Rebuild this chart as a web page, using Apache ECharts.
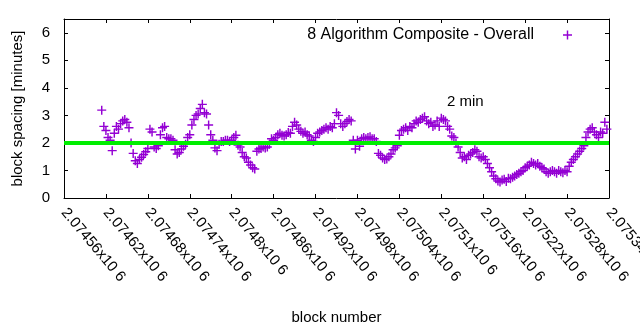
<!DOCTYPE html>
<html>
<head>
<meta charset="utf-8">
<script src="https://cdn.jsdelivr.net/npm/echarts@6/dist/echarts.min.js"></script>
<style>html,body{margin:0;padding:0;background:#fff;}#chart{width:640px;height:330px;}</style>
</head>
<body>
<div id="chart"></div>
<script>
const seriesName = '8 Algorithm Composite - Overall';
const targetMinutes = 2;
const annotationText = '2 min';
const annotationBlock = 2075108;
const annotationValue = 3.5;

const xTickValues = [2074560, 2074620, 2074680, 2074740, 2074800, 2074860, 2074920, 2074980, 2075040, 2075100, 2075160, 2075220, 2075280, 2075340];
const xTickLabels = ['2.07456x10 6', '2.07462x10 6', '2.07468x10 6', '2.07474x10 6', '2.0748x10 6', '2.07486x10 6', '2.07492x10 6', '2.07498x10 6', '2.07504x10 6', '2.0751x10 6', '2.07516x10 6', '2.07522x10 6', '2.07528x10 6', '2.07534x10 6'];
const yTickValues = [0, 1, 2, 3, 4, 5, 6];

const blocks = [
  2074614, 2074617, 2074620, 2074623, 2074626, 2074629, 2074632, 2074635, 2074638, 2074641,
  2074644, 2074647, 2074650, 2074653, 2074656, 2074659, 2074662, 2074665, 2074668, 2074671,
  2074674, 2074677, 2074680, 2074683, 2074686, 2074689, 2074692, 2074695, 2074698, 2074701,
  2074704, 2074707, 2074710, 2074713, 2074716, 2074719, 2074722, 2074725, 2074728, 2074731,
  2074734, 2074737, 2074740, 2074743, 2074746, 2074749, 2074752, 2074755, 2074758, 2074761,
  2074764, 2074767, 2074770, 2074773, 2074776, 2074779, 2074782, 2074785, 2074788, 2074791,
  2074794, 2074797, 2074800, 2074803, 2074806, 2074809, 2074812, 2074815, 2074818, 2074821,
  2074824, 2074827, 2074830, 2074833, 2074836, 2074839, 2074842, 2074845, 2074848, 2074851,
  2074854, 2074857, 2074860, 2074863, 2074866, 2074869, 2074872, 2074875, 2074878, 2074881,
  2074884, 2074887, 2074890, 2074893, 2074896, 2074899, 2074902, 2074905, 2074908, 2074911,
  2074914, 2074917, 2074920, 2074923, 2074926, 2074929, 2074932, 2074935, 2074938, 2074941,
  2074944, 2074947, 2074950, 2074953, 2074956, 2074959, 2074962, 2074965, 2074968, 2074971,
  2074974, 2074977, 2074980, 2074983, 2074986, 2074989, 2074992, 2074995, 2074998, 2075001,
  2075004, 2075007, 2075010, 2075013, 2075016, 2075019, 2075022, 2075025, 2075028, 2075031,
  2075034, 2075037, 2075040, 2075043, 2075046, 2075049, 2075052, 2075055, 2075058, 2075061,
  2075064, 2075067, 2075070, 2075073, 2075076, 2075079, 2075082, 2075085, 2075088, 2075091,
  2075094, 2075097, 2075100, 2075103, 2075106, 2075109, 2075112, 2075115, 2075118, 2075121,
  2075124, 2075127, 2075130, 2075133, 2075136, 2075139, 2075142, 2075145, 2075148, 2075151,
  2075154, 2075157, 2075160, 2075163, 2075166, 2075169, 2075172, 2075175, 2075178, 2075181,
  2075184, 2075187, 2075190, 2075193, 2075196, 2075199, 2075202, 2075205, 2075208, 2075211,
  2075214, 2075217, 2075220, 2075223, 2075226, 2075229, 2075232, 2075235, 2075238, 2075241,
  2075244, 2075247, 2075250, 2075253, 2075256, 2075259, 2075262, 2075265, 2075268, 2075271,
  2075274, 2075277, 2075280, 2075283, 2075286, 2075289, 2075292, 2075295, 2075298, 2075301,
  2075304, 2075307, 2075310, 2075313, 2075316, 2075319, 2075322, 2075325, 2075328, 2075331, 2075334, 2075337
];

const spacing = [
  3.19, 2.6, 2.45, 2.2, 2.1, 1.72, 2.35, 2.6, 2.5, 2.7,
  2.8, 2.85, 2.75, 2.55, 2.0, 1.62, 1.35, 1.25, 1.4, 1.48,
  1.58, 1.68, 1.8, 2.5, 2.4, 1.85, 1.8, 1.9, 2.3, 2.55,
  2.6, 2.2, 2.15, 2.15, 2.1, 1.75, 1.6, 1.65, 1.78, 1.88,
  1.95, 2.2, 2.3, 2.65, 2.85, 3.0, 3.05, 3.25, 3.4, 3.1,
  3.05, 2.65, 2.3, 2.1, 1.82, 1.72, 1.95, 2.05, 2.05, 2.1,
  2.1, 2.05, 2.1, 2.2, 2.28, 1.92, 1.85, 1.65, 1.5, 1.45,
  1.3, 1.2, 1.1, 1.05, 1.7, 1.78, 1.8, 1.85, 1.82, 1.85,
  1.95, 2.15, 2.1, 2.2, 2.3, 2.35, 2.28, 2.25, 2.3, 2.38,
  2.35, 2.6, 2.75, 2.65, 2.5, 2.42, 2.35, 2.4, 2.3, 2.25,
  2.1, 2.05, 2.2, 2.35, 2.4, 2.45, 2.5, 2.55, 2.5, 2.6,
  2.55, 2.7, 3.1, 3.0, 2.7, 2.6, 2.7, 2.78, 2.85, 2.8,
  2.1, 1.78, 2.1, 1.88, 2.15, 2.2, 2.15, 2.2, 2.22, 2.15,
  2.15, 2.05, 1.62, 1.55, 1.45, 1.4, 1.42, 1.5, 1.6, 1.75,
  1.82, 1.9, 2.28, 2.45, 2.5, 2.55, 2.45, 2.6, 2.55, 2.7,
  2.8, 2.75, 2.85, 2.9, 2.95, 2.8, 2.7, 2.75, 2.6, 2.65,
  2.8, 2.6, 2.9, 2.85, 2.8, 2.6, 2.5, 2.25, 2.2, 2.0,
  1.85, 1.65, 1.45, 1.5, 1.4, 1.55, 1.6, 1.65, 1.75, 1.7,
  1.5, 1.45, 1.5, 1.4, 1.25, 1.1, 0.95, 0.8, 0.7, 0.62,
  0.58, 0.65, 0.68, 0.6, 0.72, 0.7, 0.75, 0.8, 0.85, 0.9,
  0.95, 1.0, 1.1, 1.15, 1.2, 1.3, 1.25, 1.2, 1.25, 1.15,
  1.1, 1.05, 0.95, 0.9, 0.95, 1.0, 0.95, 0.9, 1.0, 0.95,
  0.92, 1.0, 0.95, 1.15, 1.3, 1.4, 1.5, 1.6, 1.7, 1.8,
  1.9, 2.2, 2.4, 2.5, 2.55, 2.4, 2.3, 2.2, 2.4, 2.35, 2.75, 2.5
];

const FONT = 'Liberation Sans';
const PLUS = 'path://M0,4.2H4.2V0H5.8V4.2H10V5.8H5.8V10H4.2V5.8H0Z';
const PURPLE = '#9400d3';

const chart = echarts.init(document.getElementById('chart'), null, {renderer: 'canvas'});
const xMin = xTickValues[0], xMax = xTickValues[xTickValues.length - 1];
const xStep = xTickValues[1] - xTickValues[0];

const baseX = {
  type: 'value', min: xMin, max: xMax, interval: xStep,
  splitLine: {show: false},
  axisLine: {show: true, onZero: false, lineStyle: {color: '#000', width: 1}},
  axisTick: {show: true, inside: true, length: 4, lineStyle: {color: '#000'}}
};
const baseY = {
  type: 'value', min: 0, max: 6.5, interval: 1,
  splitLine: {show: false},
  axisLine: {show: true, onZero: false, lineStyle: {color: '#000', width: 1}},
  axisTick: {show: true, inside: true, length: 4, lineStyle: {color: '#000'}}
};

chart.setOption({
  animation: false,
  backgroundColor: '#fff',
  textStyle: {fontFamily: FONT},
  grid: {left: 64, right: 31, top: 19, bottom: 132, show: false, containLabel: false, outerBoundsMode: 'none'},
  legend: {
    show: true,
    data: [{name: seriesName, icon: PLUS}],
    right: 68, top: 27, padding: 0,
    align: 'right',
    itemWidth: 9, itemHeight: 9,
    selectedMode: false,
    textStyle: {fontFamily: FONT, fontSize: 16, color: '#000', padding: [0, 24, 0, 0]}
  },
  xAxis: [
    Object.assign({}, baseX, {
      position: 'bottom',
      name: 'block number', nameLocation: 'middle', nameGap: 112,
      nameTextStyle: {fontFamily: FONT, fontSize: 15, color: '#000'},
      axisLabel: {
        show: true, rotate: -50, margin: 12,
        fontFamily: FONT, fontSize: 15, color: '#000',
        showMinLabel: true, showMaxLabel: true, hideOverlap: false,
        formatter: v => { const i = xTickValues.indexOf(v); return i >= 0 ? xTickLabels[i] : ''; }
      }
    }),
    Object.assign({}, baseX, {position: 'top', axisLabel: {show: false}})
  ],
  yAxis: [
    Object.assign({}, baseY, {
      position: 'left',
      name: 'block spacing [minutes]', nameLocation: 'middle', nameGap: 39,
      nameTextStyle: {fontFamily: FONT, fontSize: 15, color: '#000'},
      axisLabel: {
        show: true, margin: 14, fontFamily: FONT, fontSize: 15, color: '#000',
        showMaxLabel: false,
        formatter: v => yTickValues.indexOf(v) >= 0 ? String(v) : ''
      }
    }),
    Object.assign({}, baseY, {position: 'right', axisLabel: {show: false}})
  ],
  series: [
    {
      name: seriesName,
      type: 'scatter',
      symbol: PLUS,
      symbolSize: 9,
      itemStyle: {color: PURPLE, opacity: 1},
      data: blocks.map((b, i) => [b, spacing[i]]),
      z: 2
    },
    {
      name: 'target',
      type: 'line',
      data: [],
      z: 5,
      markLine: {
        silent: true,
        symbol: ['none', 'none'],
        label: {show: false},
        lineStyle: {color: '#00ee00', width: 4, type: 'solid'},
        data: [{yAxis: targetMinutes}]
      },
      markPoint: {
        silent: true,
        symbol: 'circle', symbolSize: 0,
        label: {
          show: true, position: 'right', distance: 0,
          formatter: annotationText,
          fontFamily: FONT, fontSize: 15, color: '#000', align: 'left', verticalAlign: 'middle'
        },
        data: [{coord: [annotationBlock, annotationValue]}]
      }
    }
  ]
});
</script>
</body>
</html>
